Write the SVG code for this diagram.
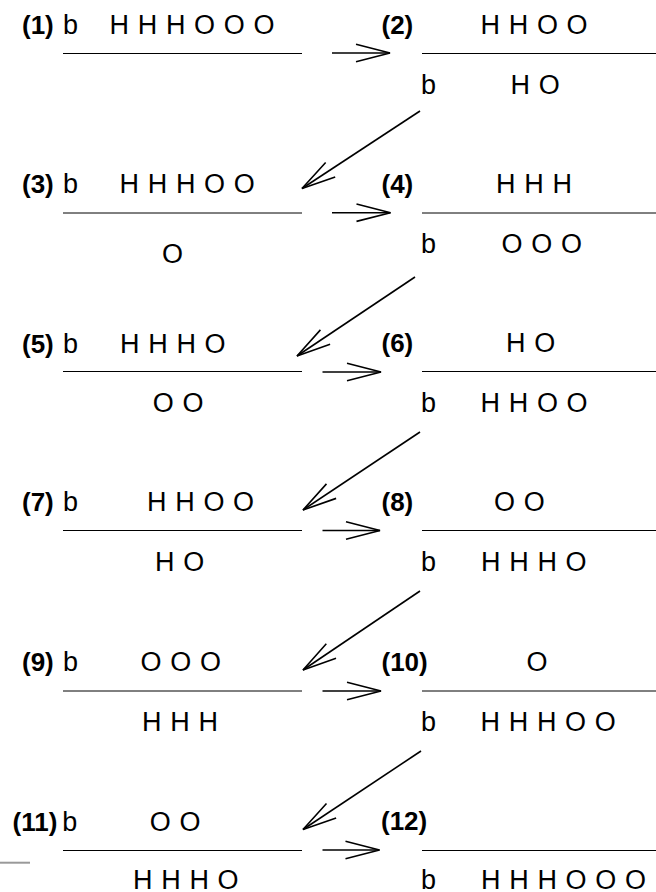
<svg xmlns="http://www.w3.org/2000/svg" width="656" height="892" viewBox="0 0 656 892">
<style>
text{font-family:"Liberation Sans",Arial,sans-serif;font-size:27px;fill:#000}
.lb{font-weight:bold;font-size:26px}
.ch{letter-spacing:0.6px}
.ln{stroke:#000;stroke-width:1;fill:none}
.ar{stroke:#000;stroke-width:1.6;fill:none;marker-end:url(#ah)}
</style>
<defs>
<marker id="ah" viewBox="-36 -10 40 20" markerWidth="40" markerHeight="20" refX="0" refY="0" orient="auto" markerUnits="userSpaceOnUse">
<path d="M-34,-8.7 L0,0 L-34,8.7" fill="none" stroke="#000" stroke-width="1.6"/>
</marker>
</defs>
<rect width="656" height="892" fill="#fff"/>

<g id="n1">
<text class="lb" x="22" y="34">(1)</text>
<text x="63" y="34">b</text>
<text class="ch" x="109.5" y="34">H H H O O O</text>
<line class="ln" x1="63" y1="53.5" x2="302" y2="53.5"/>
</g>
<g id="n2">
<text class="lb" x="381.5" y="34">(2)</text>
<text class="ch" x="480.5" y="34">H H O O</text>
<line class="ln" x1="422" y1="53.5" x2="656" y2="53.5"/>
<text x="421" y="94">b</text>
<text class="ch" x="510.5" y="94">H O</text>
</g>
<g id="n3">
<text class="lb" x="22" y="193">(3)</text>
<text x="63" y="193">b</text>
<text class="ch" x="119.5" y="193">H H H O O</text>
<line class="ln" x1="63" y1="213" x2="302" y2="213"/>
<text class="ch" x="162" y="263">O</text>
</g>
<g id="n4">
<text class="lb" x="381.5" y="193">(4)</text>
<text class="ch" x="496" y="193">H H H</text>
<line class="ln" x1="422" y1="213" x2="656" y2="213"/>
<text x="421" y="253">b</text>
<text class="ch" x="501.5" y="253">O O O</text>
</g>
<g id="n5">
<text class="lb" x="22" y="352.5">(5)</text>
<text x="63" y="352.5">b</text>
<text class="ch" x="120" y="352.5">H H H O</text>
<line class="ln" x1="63" y1="371.5" x2="302" y2="371.5"/>
<text class="ch" x="152.8" y="412">O O</text>
</g>
<g id="n6">
<text class="lb" x="381.5" y="352">(6)</text>
<text class="ch" x="506" y="352">H O</text>
<line class="ln" x1="422" y1="371.5" x2="656" y2="371.5"/>
<text x="421" y="412">b</text>
<text class="ch" x="480.5" y="412">H H O O</text>
</g>
<g id="n7">
<text class="lb" x="22" y="511">(7)</text>
<text x="63" y="511">b</text>
<text class="ch" x="147" y="511">H H O O</text>
<line class="ln" x1="63" y1="530.5" x2="302" y2="530.5"/>
<text class="ch" x="155" y="571">H O</text>
</g>
<g id="n8">
<text class="lb" x="381.5" y="511">(8)</text>
<text class="ch" x="494" y="511">O O</text>
<line class="ln" x1="422" y1="530.5" x2="656" y2="530.5"/>
<text x="421" y="571">b</text>
<text class="ch" x="481" y="571">H H H O</text>
</g>
<g id="n9">
<text class="lb" x="22" y="671">(9)</text>
<text x="63" y="671">b</text>
<text class="ch" x="140.5" y="671">O O O</text>
<line class="ln" x1="63" y1="691" x2="302" y2="691"/>
<text class="ch" x="142" y="731">H H H</text>
</g>
<g id="n10">
<text class="lb" x="381.5" y="670.5">(10)</text>
<text class="ch" x="526.5" y="670.5">O</text>
<line class="ln" x1="422" y1="691" x2="656" y2="691"/>
<text x="421" y="731">b</text>
<text class="ch" x="480.5" y="731">H H H O O</text>
</g>
<g id="n11">
<text class="lb" x="12.6" y="830.5">(11)</text>
<text x="62.2" y="830.5">b</text>
<text class="ch" x="149.8" y="830.5">O O</text>
<line class="ln" x1="63" y1="850.5" x2="302" y2="850.5"/>
<text class="ch" x="133" y="889">H H H O</text>
</g>
<g id="n12">
<text class="lb" x="381" y="830">(12)</text>
<line class="ln" x1="422" y1="850.5" x2="656" y2="850.5"/>
<text x="421" y="889">b</text>
<text class="ch" x="481" y="889">H H H O O O</text>
</g>

<g id="connectors">
<line class="ar" x1="332" y1="53" x2="390" y2="53"/>
<line class="ar" x1="420" y1="111" x2="302" y2="188.5"/>
<line class="ar" x1="332" y1="212.7" x2="390.5" y2="212.7"/>
<line class="ar" x1="415" y1="277" x2="297" y2="356"/>
<line class="ar" x1="322.5" y1="372" x2="381" y2="372"/>
<line class="ar" x1="420" y1="432" x2="303" y2="510"/>
<line class="ar" x1="322.5" y1="530.5" x2="380" y2="530.5"/>
<line class="ar" x1="420" y1="591" x2="303" y2="670"/>
<line class="ar" x1="322.5" y1="691" x2="381" y2="691"/>
<line class="ar" x1="421" y1="751" x2="303" y2="829.5"/>
<line class="ar" x1="322.5" y1="850" x2="379.5" y2="850"/>
</g>

<line x1="0" y1="862.7" x2="30" y2="862.7" stroke="#999" stroke-width="2"/>
</svg>
